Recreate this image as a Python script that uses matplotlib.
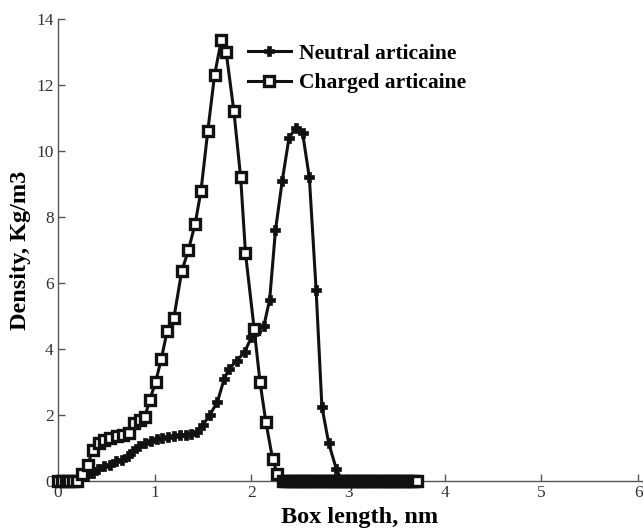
import matplotlib
matplotlib.use("Agg")
import matplotlib.pyplot as plt

# box length positions (nm) and density values
neutral_x = [0.00, 0.06, 0.12, 0.18, 0.24, 0.30, 0.36, 0.42, 0.48, 0.54,
             0.60, 0.66, 0.72, 0.78, 0.84, 0.90, 0.96, 1.02, 1.08, 1.14,
             1.20, 1.26, 1.32, 1.38, 1.44, 1.50, 1.57, 1.65, 1.72, 1.77,
             1.85, 1.93, 2.00, 2.05, 2.13, 2.19, 2.25, 2.32, 2.39, 2.46,
             2.53, 2.60, 2.67, 2.73, 2.80, 2.88, 2.94, 3.00, 3.06, 3.12,
             3.18, 3.24, 3.30, 3.36, 3.42, 3.48, 3.54, 3.60, 3.66, 3.72]
neutral_y = [0.0, 0.0, 0.0, 0.0, 0.05, 0.15, 0.25, 0.35, 0.45, 0.5,
             0.6, 0.65, 0.75, 0.9, 1.05, 1.15, 1.2, 1.28, 1.3, 1.33,
             1.35, 1.38, 1.4, 1.43, 1.48, 1.7, 2.0, 2.4, 3.1, 3.4,
             3.65, 3.9, 4.35, 4.55, 4.7, 5.5, 7.6, 9.1, 10.4, 10.7,
             10.55, 9.2, 5.8, 2.25, 1.15, 0.35, 0.0, 0.0, 0.0, 0.0,
             0.0, 0.0, 0.0, 0.0, 0.0, 0.0, 0.0, 0.0, 0.0, 0.0]

charged_x = [0.00, 0.04, 0.08, 0.12, 0.16, 0.20, 0.25, 0.31, 0.36, 0.43,
             0.48, 0.54, 0.61, 0.67, 0.74, 0.79, 0.85, 0.90, 0.95, 1.01,
             1.07, 1.13, 1.20, 1.28, 1.35, 1.42, 1.48, 1.55, 1.62, 1.69,
             1.74, 1.82, 1.89, 1.94, 2.03, 2.09, 2.15, 2.22, 2.27,
             2.33, 2.36, 2.39, 2.42, 2.45, 2.48, 2.51, 2.54, 2.57, 2.60,
             2.63, 2.66, 2.69, 2.72, 2.75, 2.78, 2.81, 2.84, 2.87, 2.90,
             2.93, 2.96, 2.99, 3.02, 3.05, 3.08, 3.11, 3.14, 3.17, 3.20,
             3.23, 3.26, 3.29, 3.32, 3.35, 3.38, 3.41, 3.44, 3.47, 3.50,
             3.53, 3.56, 3.59, 3.62, 3.65, 3.68, 3.71]
charged_y = [0.0, 0.0, 0.0, 0.0, 0.0, 0.0, 0.2, 0.5, 0.95, 1.15,
             1.25, 1.3, 1.35, 1.38, 1.45, 1.75, 1.85, 1.95, 2.45, 3.0,
             3.7, 4.55, 4.95, 6.35, 7.0, 7.8, 8.8, 10.6, 12.3, 13.36,
             13.0, 11.2, 9.2, 6.9, 4.6, 3.0, 1.8, 0.67, 0.2,
             0.0, 0.0, 0.0, 0.0, 0.0, 0.0, 0.0, 0.0, 0.0, 0.0,
             0.0, 0.0, 0.0, 0.0, 0.0, 0.0, 0.0, 0.0, 0.0, 0.0,
             0.0, 0.0, 0.0, 0.0, 0.0, 0.0, 0.0, 0.0, 0.0, 0.0,
             0.0, 0.0, 0.0, 0.0, 0.0, 0.0, 0.0, 0.0, 0.0, 0.0,
             0.0, 0.0, 0.0, 0.0, 0.0, 0.0, 0.0]

x_ticks = [0, 1, 2, 3, 4, 5, 6]
y_ticks = [0, 2, 4, 6, 8, 10, 12, 14]

color = "#111111"
axis_color = "#555555"

matplotlib.rcParams["font.family"] = ["Liberation Serif", "DejaVu Serif"]
matplotlib.rcParams["xtick.color"] = axis_color
matplotlib.rcParams["ytick.color"] = axis_color
matplotlib.rcParams["xtick.labelcolor"] = "#333333"
matplotlib.rcParams["ytick.labelcolor"] = "#333333"

fig = plt.figure(figsize=(6.43, 5.28), dpi=100)
ax = fig.add_axes([0.09, 0.089, 0.91, 0.875])

ax.plot(neutral_x, neutral_y, color=color, linewidth=2.2, marker="P",
        markersize=6.5, markerfacecolor=color, markeredgecolor=color,
        markeredgewidth=0.5, clip_on=False, zorder=3,
        label="Neutral articaine")
ax.plot(charged_x, charged_y, color=color, linewidth=2.2, marker="s",
        markersize=7.5, markerfacecolor="white", markeredgecolor=color,
        markeredgewidth=2.4, clip_on=False, zorder=4,
        label="Charged articaine")

ax.set_xlim(0, 6.05)
ax.set_ylim(0, 14)
ax.set_xticks(x_ticks)
ax.set_yticks(y_ticks)
ax.tick_params(direction="in", length=5, width=1, labelsize=12.5, pad=3)

for side in ["top", "right"]:
    ax.spines[side].set_visible(False)
for side in ["left", "bottom"]:
    ax.spines[side].set_color(axis_color)
    ax.spines[side].set_linewidth(1)

ax.set_xlabel("Box length, nm", fontsize=17.5, fontweight="bold")
ax.xaxis.set_label_coords(0.516, -0.057)
ax.set_ylabel("Density, Kg/m3", fontsize=17.5, fontweight="bold")
ax.yaxis.set_label_coords(-0.046, 0.5)

leg = ax.legend(loc="upper left", bbox_to_anchor=(0.291, 0.988), frameon=False,
                prop={"size": 15.5, "weight": "bold"}, handlelength=2.0,
                handletextpad=0.4, labelspacing=0.42)

fig.savefig("out.png", dpi=100)
plt.close()
